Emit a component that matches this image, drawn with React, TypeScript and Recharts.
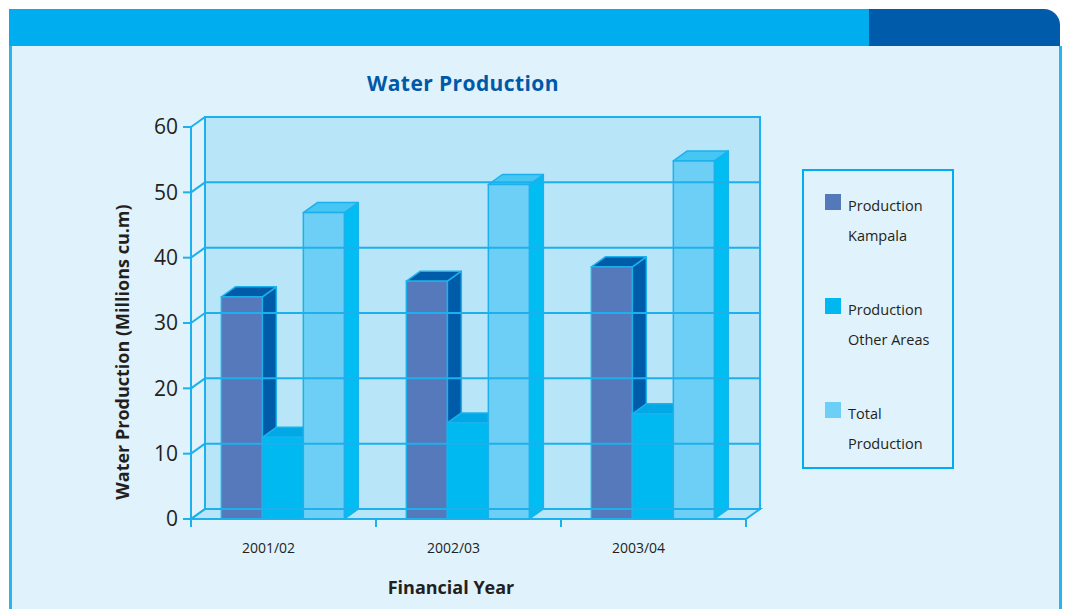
import React from 'react';
import { BarChart, Bar, XAxis, YAxis, ReferenceArea, ReferenceLine, Legend } from 'recharts';

const categories = ['2001/02', '2002/03', '2003/04'];
const kampala = [34.0, 36.4, 38.6];
const otherAreas = [12.5, 14.7, 16.1];
const total = [46.9, 51.2, 54.8];
const yTicks = [0, 10, 20, 30, 40, 50, 60];

const seriesNames = {
  kampala: 'Production Kampala',
  other: 'Production Other Areas',
  total: 'Total Production',
};

const data = categories.map((c, i) => ({
  year: c,
  kampala: kampala[i],
  other: otherAreas[i],
  total: total[i],
}));

const DX = 14;
const DY = 10;
const LINE = '#1cb1ec';
const WALL = '#b9e5f9';
const FONT = "'Open Sans', sans-serif";
const TEXT = '#231f20';

const makeBox = (front: string, side: string, top: string) => (props: any) => {
  const { x, y, width, height } = props;
  if (width == null || height == null) return null;
  const w = width;
  const h = height;
  return (
    <g>
      <polygon
        points={`${x + w},${y} ${x + w + DX},${y - DY} ${x + w + DX},${y + h - DY} ${x + w},${y + h}`}
        fill={side}
        stroke={LINE}
        strokeWidth={1.5}
        strokeLinejoin="round"
      />
      <polygon
        points={`${x},${y} ${x + w},${y} ${x + w + DX},${y - DY} ${x + DX},${y - DY}`}
        fill={top}
        stroke={LINE}
        strokeWidth={1.5}
        strokeLinejoin="round"
      />
      <rect x={x} y={y} width={w} height={h} fill={front} stroke={LINE} strokeWidth={1.5} />
    </g>
  );
};

const WallShape = (props: any) => {
  const { x, y, width, height } = props;
  const n = categories.length;
  const ticks = Array.from({ length: n + 1 }, (_, i) => x + (width * i) / n);
  return (
    <g>
      <rect x={x + DX} y={y - DY} width={width} height={height} fill={WALL} stroke={LINE} strokeWidth={2} />
      <polygon
        points={`${x},${y + height} ${x + width},${y + height} ${x + width + DX},${y + height - DY} ${x + DX},${y + height - DY}`}
        fill={WALL}
        stroke={LINE}
        strokeWidth={2}
      />
      {ticks.map((tx, i) => (
        <line key={i} x1={tx} y1={y + height} x2={tx} y2={y + height + 8} stroke={LINE} strokeWidth={2} />
      ))}
    </g>
  );
};

const GridLine = (props: any) => {
  const { x1, y1, x2, y2 } = props;
  return (
    <g>
      <line x1={x1 + DX} y1={y1 - DY} x2={x2 + DX} y2={y2 - DY} stroke={LINE} strokeWidth={2} />
      <line x1={x1} y1={y1} x2={x1 + DX} y2={y1 - DY} stroke={LINE} strokeWidth={2} />
    </g>
  );
};

const legendColors: Record<string, string> = {
  kampala: '#5479bb',
  other: '#00b8f0',
  total: '#6dcff5',
};

const LegendContent = (props: any) => {
  const payload = props.payload || [];
  return (
    <div
      style={{
        boxSizing: 'border-box',
        width: 152,
        height: 300,
        border: '2.5px solid #00aeef',
        paddingTop: 21,
        fontFamily: FONT,
        fontSize: 14.5,
        color: TEXT,
      }}
    >
      {payload.map((p: any, i: number) => {
        const words = String(p.value).split(' ');
        const first = words[0];
        const rest = words.slice(1).join(' ');
        return (
          <div key={i} style={{ display: 'flex', height: 104, marginLeft: 21 }}>
            <div style={{ width: 16, height: 16, background: legendColors[p.dataKey] || p.color, marginTop: 2 }} />
            <div style={{ marginLeft: 7, lineHeight: '30px', marginTop: -1 }}>
              <div>{first}</div>
              <div>{rest}</div>
            </div>
          </div>
        );
      })}
    </div>
  );
};

export default function App() {
  return (
    <div style={{ position: 'absolute', left: 0, top: 0, width: 1066, height: 609, background: '#ffffff', overflow: 'hidden' }}>
      <div style={{ position: 'absolute', left: 9, top: 9, width: 860, height: 37, background: '#00aeef' }} />
      <div
        style={{
          position: 'absolute',
          left: 869,
          top: 9,
          width: 191,
          height: 37,
          background: '#005baa',
          borderTopRightRadius: 16,
        }}
      />
      <div
        style={{
          position: 'absolute',
          left: 9,
          top: 46,
          width: 1053,
          height: 563,
          boxSizing: 'border-box',
          background: '#e0f2fc',
          borderLeft: '3px solid #29b6ee',
          borderRight: '3px solid #29b6ee',
        }}
      />
      <div
        style={{
          position: 'absolute',
          left: 263,
          top: 69,
          width: 400,
          textAlign: 'center',
          fontFamily: FONT,
          fontWeight: 700,
          fontSize: 21,
          color: '#0059a8',
          letterSpacing: 0.4,
        }}
      >
        Water Production
      </div>
      <div style={{ position: 'absolute', left: 0, top: 0 }}>
        <BarChart
          width={1066}
          height={609}
          data={data}
          margin={{ top: 127, right: 320, bottom: 60, left: 131 }}
          barGap={0}
          barCategoryGap="16.4%"
        >
          <ReferenceArea y1={0} y2={60} ifOverflow="visible" shape={<WallShape />} />
          {yTicks.map((v) => (
            <ReferenceLine key={v} y={v} ifOverflow="visible" shape={(p: any) => <GridLine {...p} />} />
          ))}
          <XAxis
            dataKey="year"
            height={30}
            axisLine={{ stroke: LINE, strokeWidth: 2 }}
            tickLine={false}
            tickSize={8}
            tickMargin={16}
            tick={{ fill: TEXT, fontSize: 14, fontFamily: FONT, dx: -15 }}
            label={{
              content: () => (
                <text x={451} y={594} textAnchor="middle" fill={TEXT} fontFamily={FONT} fontWeight={700} fontSize={18}>
                  Financial Year
                </text>
              ),
            }}
          />
          <YAxis
            width={60}
            domain={[0, 60]}
            ticks={yTicks}
            interval={0}
            axisLine={{ stroke: LINE, strokeWidth: 2 }}
            tickLine={{ stroke: LINE, strokeWidth: 2 }}
            tickSize={8}
            tickMargin={5}
            tick={{ fill: TEXT, fontSize: 21, fontFamily: FONT }}
            label={{
              content: () => (
                <text
                  x={122}
                  y={352}
                  transform="rotate(-90, 122, 352)"
                  textAnchor="middle"
                  dominantBaseline="central"
                  fill={TEXT}
                  fontFamily={FONT}
                  fontWeight={700}
                  fontSize={18}
                >
                  Water Production (Millions cu.m)
                </text>
              ),
            }}
          />
          <Legend
            layout="horizontal"
            align="center"
            verticalAlign="middle"
            wrapperStyle={{ left: 802, top: 169, width: 152, height: 300 }}
            content={<LegendContent />}
          />
          <Bar
            dataKey="kampala"
            name={seriesNames.kampala}
            fill="#5479bb"
            isAnimationActive={false}
            shape={makeBox('#5579bb', '#005ca9', '#005ca9')}
          />
          <Bar
            dataKey="other"
            name={seriesNames.other}
            fill="#00b8f0"
            isAnimationActive={false}
            shape={makeBox('#00b9f1', '#00b0ea', '#00a9e5')}
          />
          <Bar
            dataKey="total"
            name={seriesNames.total}
            fill="#6dcff5"
            isAnimationActive={false}
            shape={makeBox('#6dcff6', '#00bdf2', '#45c6f3')}
          />
        </BarChart>
      </div>
    </div>
  );
}
